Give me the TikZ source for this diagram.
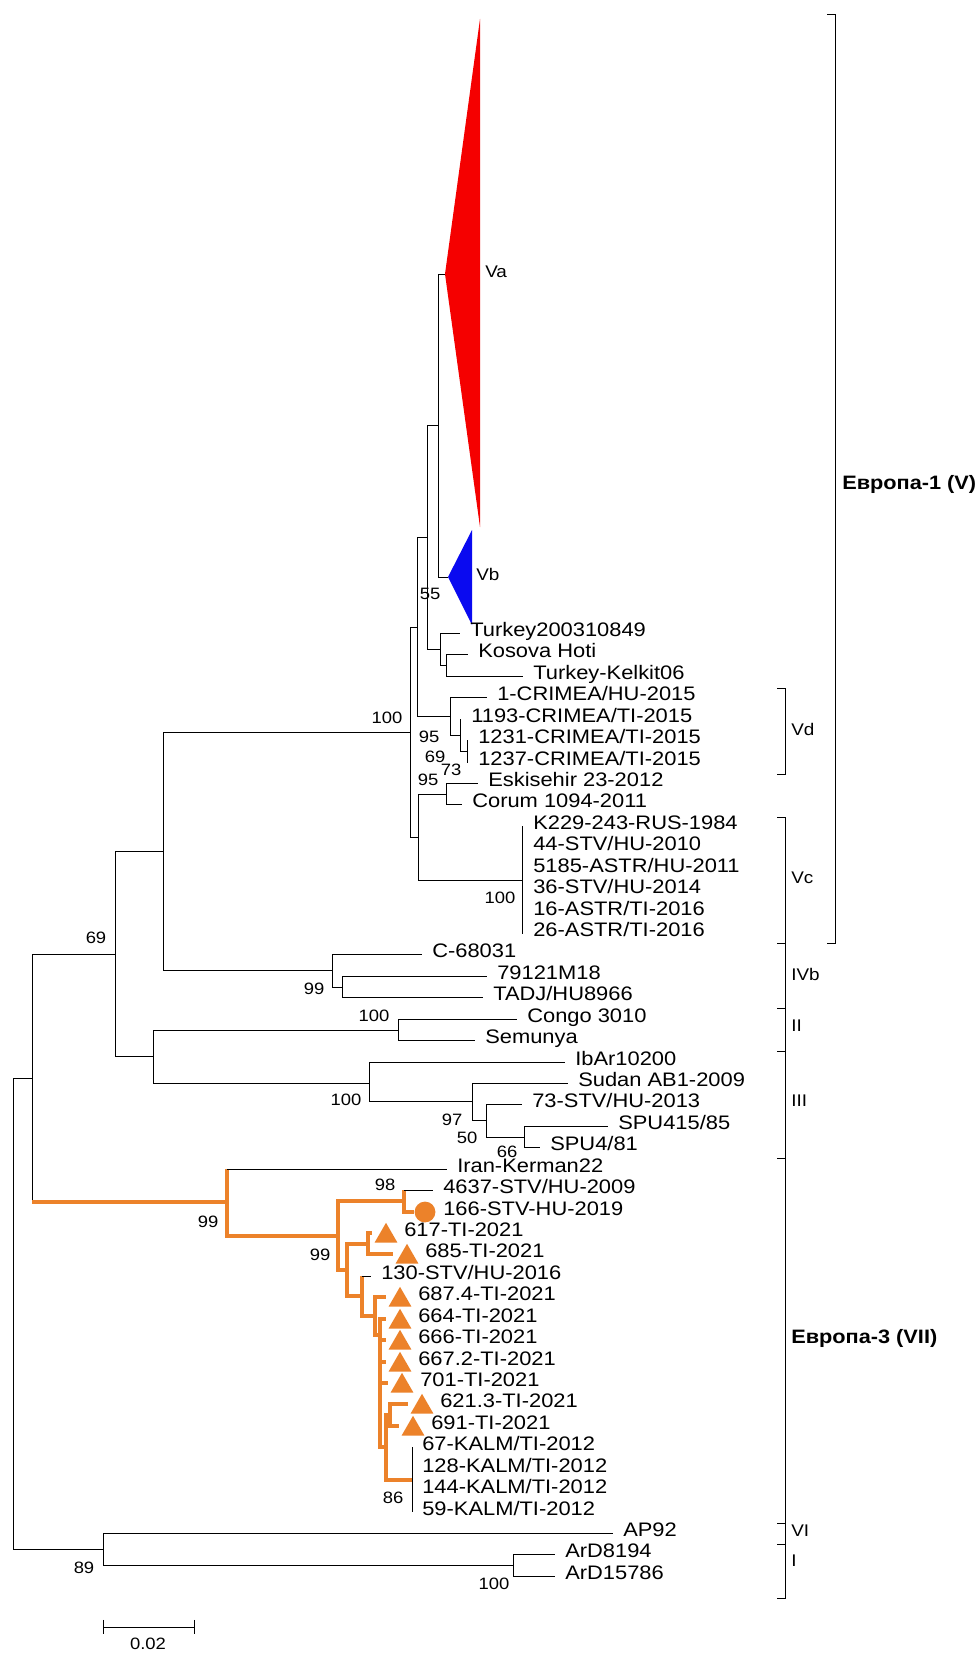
\documentclass[tikz,border=0pt]{standalone}
\usepackage{fontspec}
\usetikzlibrary{shapes.geometric}
\newfontfamily\treefont[FakeStretch=1.12]{Liberation Sans}
\definecolor{vared}{RGB}{245,0,0}
\definecolor{vbblue}{RGB}{10,10,240}
\definecolor{euroorange}{RGB}{236,130,42}

\begin{document}
\begin{tikzpicture}[x=0.25mm,y=-0.25mm]
  \tikzset{branch/.style={draw=black,line width=0.7pt}}
  \tikzset{eubranch/.style={draw=euroorange,line width=2.4pt}}
  \tikzset{leafname/.style={anchor=mid west,inner sep=0pt,font=\treefont\fontsize{13.9}{14}\selectfont,text=black}}
  \tikzset{leaf/.style={leafname,xshift=2.5mm}}
  \tikzset{markleaf/.style={leafname,xshift=4.5mm}}
  \tikzset{boot/.style={inner sep=0pt,font=\treefont\fontsize{11.7}{12}\selectfont}}
  \tikzset{clade/.style={anchor=mid west,inner sep=0pt,font=\treefont\fontsize{12}{12}\selectfont}}
  \tikzset{group/.style={anchor=mid west,inner sep=0pt,font=\treefont\bfseries\fontsize{13.8}{14}\selectfont}}
  \tikzset{tri/.style={regular polygon,regular polygon sides=3,fill=euroorange,inner sep=0pt,minimum size=6.6mm}}
  \tikzset{dot/.style={circle,fill=euroorange,inner sep=0pt,minimum size=5.2mm}}
  \fill[white] (0,0) rectangle (980,1653);
  \useasboundingbox (0,0) rectangle (980,1653);
  \coordinate (root) at (13,1314);
  \coordinate (nA) at (32,1078);
  \coordinate (n69) at (115,954);
  \coordinate (nIVE) at (163,851);
  \coordinate (r1) at (410,732);
  \coordinate (n3) at (417,627);
  \coordinate (n2) at (427,537);
  \coordinate (n1) at (438,425);
  \coordinate (tg) at (440,649);
  \coordinate (kk) at (446,665);
  \coordinate (cg) at (450,716);
  \coordinate (sg) at (460,735);
  \coordinate (ss) at (467,751);
  \coordinate (n4) at (418,837);
  \coordinate (ec) at (446,794);
  \coordinate (vc) at (522,880);
  \coordinate (ivb) at (332,970);
  \coordinate (n79) at (342,987);
  \coordinate (nII) at (153,1056);
  \coordinate (cII) at (398,1030);
  \coordinate (cIII) at (369,1083);
  \coordinate (ns) at (472,1101);
  \coordinate (n73) at (486,1120);
  \coordinate (nspu) at (524,1137);
  \coordinate (e3) at (227,1202);
  \coordinate (ne) at (338,1236);
  \coordinate (n98) at (404,1201);
  \coordinate (nf) at (347,1270);
  \coordinate (n617) at (368,1244);
  \coordinate (ng) at (362,1296);
  \coordinate (nh) at (375,1316);
  \coordinate (ni) at (380,1335);
  \coordinate (nl) at (386,1447);
  \coordinate (n621) at (390,1415);
  \coordinate (nk) at (412,1480);
  \coordinate (nb) at (103,1549);
  \coordinate (nar) at (513,1565);
  \coordinate (va) at (445,274);
  \coordinate (vb) at (448,577);
  \coordinate (t0) at (460,633);
  \coordinate (t1) at (468,654);
  \coordinate (t2) at (523,676);
  \coordinate (t3) at (487,697);
  \coordinate (t4) at (461,719);
  \coordinate (t5) at (468,740);
  \coordinate (t6) at (468,762);
  \coordinate (t7) at (478,783);
  \coordinate (t8) at (462,804);
  \coordinate (t9) at (523,826);
  \coordinate (t10) at (523,847);
  \coordinate (t11) at (523,869);
  \coordinate (t12) at (523,890);
  \coordinate (t13) at (523,912);
  \coordinate (t14) at (523,933);
  \coordinate (t15) at (422,954);
  \coordinate (t16) at (487,976);
  \coordinate (t17) at (483,997);
  \coordinate (t18) at (517,1019);
  \coordinate (t19) at (475,1040);
  \coordinate (t20) at (565,1062);
  \coordinate (t21) at (568,1083);
  \coordinate (t22) at (522,1104);
  \coordinate (t23) at (608,1126);
  \coordinate (t24) at (540,1147);
  \coordinate (t25) at (447,1169);
  \coordinate (t26) at (433,1190);
  \coordinate (t27) at (414,1212);
  \coordinate (t28) at (372,1233);
  \coordinate (t29) at (393,1254);
  \coordinate (t30) at (371,1276);
  \coordinate (t31) at (386,1297);
  \coordinate (t32) at (386,1319);
  \coordinate (t33) at (386,1340);
  \coordinate (t34) at (386,1362);
  \coordinate (t35) at (388,1383);
  \coordinate (t36) at (408,1404);
  \coordinate (t37) at (399,1426);
  \coordinate (t38) at (412,1447);
  \coordinate (t39) at (412,1469);
  \coordinate (t40) at (412,1490);
  \coordinate (t41) at (412,1512);
  \coordinate (t42) at (613,1533);
  \coordinate (t43) at (555,1554);
  \coordinate (t44) at (555,1576);
  \fill[vared] (va) -- (480,19) -- (480,527) -- cycle;
  \fill[vbblue] (vb) -- (472,530) -- (472,625) -- cycle;
  \draw[branch] (root) |- (nA) (root) |- (nb);
  \draw[branch] (nA) |- (n69) (nA) -- (nA |- e3);
  \draw[eubranch] (nA |- e3) -- (e3);
  \draw[branch] (n69) |- (nIVE) (n69) |- (nII);
  \draw[branch] (nIVE) |- (r1) (nIVE) |- (ivb);
  \draw[branch] (r1) |- (n3) (r1) |- (n4);
  \draw[branch] (n3) |- (n2) (n3) |- (cg);
  \draw[branch] (n2) |- (n1) (n2) |- (tg);
  \draw[branch] (n1) |- (va) (n1) |- (vb);
  \draw[branch] (tg) |- (t0) (tg) |- (kk);
  \draw[branch] (kk) |- (t1) (kk) |- (t2);
  \draw[branch] (cg) |- (t3) (cg) |- (sg);
  \draw[branch] (sg) |- (t4) (sg) |- (ss);
  \draw[branch] (ss) |- (t5) (ss) |- (t6);
  \draw[branch] (n4) |- (ec) (n4) |- (vc);
  \draw[branch] (ec) |- (t7) (ec) |- (t8);
  \draw[branch] (vc) |- (t9) (vc) |- (t10) (vc) |- (t11) (vc) |- (t12) (vc) |- (t13) (vc) |- (t14);
  \draw[branch] (ivb) |- (t15) (ivb) |- (n79);
  \draw[branch] (n79) |- (t16) (n79) |- (t17);
  \draw[branch] (nII) |- (cII) (nII) |- (cIII);
  \draw[branch] (cII) |- (t18) (cII) |- (t19);
  \draw[branch] (cIII) |- (t20) (cIII) |- (ns);
  \draw[branch] (ns) |- (t21) (ns) |- (n73);
  \draw[branch] (n73) |- (t22) (n73) |- (nspu);
  \draw[branch] (nspu) |- (t23) (nspu) |- (t24);
  \draw[branch] (nb) |- (t42) (nb) |- (nar);
  \draw[branch] (nar) |- (t43) (nar) |- (t44);
  \draw[eubranch] (e3) |- (ne) (e3) -- (e3 |- t25);
  \draw[branch] (e3 |- t25) -- (t25);
  \draw[eubranch] (ne) |- (n98) (ne) |- (nf);
  \draw[eubranch] (n98) |- (t27) (n98) -- (n98 |- t26);
  \draw[branch] (n98 |- t26) -- (t26);
  \draw[eubranch] (nf) |- (n617) (nf) |- (ng);
  \draw[eubranch] (n617) |- (t28) (n617) |- (t29);
  \draw[eubranch] (ng) |- (nh) (ng) -- (ng |- t30);
  \draw[branch] (ng |- t30) -- (t30);
  \draw[eubranch] (nh) |- (t31) (nh) |- (ni);
  \draw[eubranch] (ni) |- (t32) (ni) |- (t33) (ni) |- (t34) (ni) |- (t35) (ni) |- (nl);
  \draw[eubranch] (nl) |- (n621) (nl) |- (nk);
  \draw[eubranch] (n621) |- (t36) (n621) |- (t37);
  \draw[branch] (nk) |- (t38) (nk) |- (t39) (nk) |- (t40) (nk) |- (t41);
  \node[dot] (m27) at (425,1212) {};
  \node[tri] (m28) at (386,1236) {};
  \node[tri] (m29) at (407,1257) {};
  \node[tri] (m31) at (400,1300) {};
  \node[tri] (m32) at (400,1322) {};
  \node[tri] (m33) at (400,1343) {};
  \node[tri] (m34) at (400,1365) {};
  \node[tri] (m35) at (402,1386) {};
  \node[tri] (m36) at (422,1407) {};
  \node[tri] (m37) at (413,1429) {};
  \node[clade] (lva) at (485,274) {Va};
  \node[clade] (lvb) at (476,577) {Vb};
  \node[leaf] (l0) at (t0) {Turkey200310849};
  \node[leaf] (l1) at (t1) {Kosova Hoti};
  \node[leaf] (l2) at (t2) {Turkey-Kelkit06};
  \node[leaf] (l3) at (t3) {1-CRIMEA/HU-2015};
  \node[leaf] (l4) at (t4) {1193-CRIMEA/TI-2015};
  \node[leaf] (l5) at (t5) {1231-CRIMEA/TI-2015};
  \node[leaf] (l6) at (t6) {1237-CRIMEA/TI-2015};
  \node[leaf] (l7) at (t7) {Eskisehir 23-2012};
  \node[leaf] (l8) at (t8) {Corum 1094-2011};
  \node[leaf] (l9) at (t9) {K229-243-RUS-1984};
  \node[leaf] (l10) at (t10) {44-STV/HU-2010};
  \node[leaf] (l11) at (t11) {5185-ASTR/HU-2011};
  \node[leaf] (l12) at (t12) {36-STV/HU-2014};
  \node[leaf] (l13) at (t13) {16-ASTR/TI-2016};
  \node[leaf] (l14) at (t14) {26-ASTR/TI-2016};
  \node[leaf] (l15) at (t15) {C-68031};
  \node[leaf] (l16) at (t16) {79121M18};
  \node[leaf] (l17) at (t17) {TADJ/HU8966};
  \node[leaf] (l18) at (t18) {Congo 3010};
  \node[leaf] (l19) at (t19) {Semunya};
  \node[leaf] (l20) at (t20) {IbAr10200};
  \node[leaf] (l21) at (t21) {Sudan AB1-2009};
  \node[leaf] (l22) at (t22) {73-STV/HU-2013};
  \node[leaf] (l23) at (t23) {SPU415/85};
  \node[leaf] (l24) at (t24) {SPU4/81};
  \node[leaf] (l25) at (t25) {Iran-Kerman22};
  \node[leaf] (l26) at (t26) {4637-STV/HU-2009};
  \node[markleaf] (l27) at (m27 |- t27) {166-STV-HU-2019};
  \node[markleaf] (l28) at (m28 |- t28) {617-TI-2021};
  \node[markleaf] (l29) at (m29 |- t29) {685-TI-2021};
  \node[leaf] (l30) at (t30) {130-STV/HU-2016};
  \node[markleaf] (l31) at (m31 |- t31) {687.4-TI-2021};
  \node[markleaf] (l32) at (m32 |- t32) {664-TI-2021};
  \node[markleaf] (l33) at (m33 |- t33) {666-TI-2021};
  \node[markleaf] (l34) at (m34 |- t34) {667.2-TI-2021};
  \node[markleaf] (l35) at (m35 |- t35) {701-TI-2021};
  \node[markleaf] (l36) at (m36 |- t36) {621.3-TI-2021};
  \node[markleaf] (l37) at (m37 |- t37) {691-TI-2021};
  \node[leaf] (l38) at (t38) {67-KALM/TI-2012};
  \node[leaf] (l39) at (t39) {128-KALM/TI-2012};
  \node[leaf] (l40) at (t40) {144-KALM/TI-2012};
  \node[leaf] (l41) at (t41) {59-KALM/TI-2012};
  \node[leaf] (l42) at (t42) {AP92};
  \node[leaf] (l43) at (t43) {ArD8194};
  \node[leaf] (l44) at (t44) {ArD15786};
  \node[boot] (b1) at (430,594) {55};
  \node[boot] (b2) at (387,718) {100};
  \node[boot] (b3) at (429,737) {95};
  \node[boot] (b4) at (435,757) {69};
  \node[boot] (b5) at (451,770) {73};
  \node[boot] (b6) at (428,780) {95};
  \node[boot] (b7) at (500,898) {100};
  \node[boot] (b8) at (314,989) {99};
  \node[boot] (b9) at (374,1016) {100};
  \node[boot] (b10) at (346,1100) {100};
  \node[boot] (b11) at (452,1120) {97};
  \node[boot] (b12) at (467,1138) {50};
  \node[boot] (b13) at (507,1152) {66};
  \node[boot] (b14) at (96,938) {69};
  \node[boot] (b15) at (208,1222) {99};
  \node[boot] (b16) at (320,1255) {99};
  \node[boot] (b17) at (385,1185) {98};
  \node[boot] (b18) at (393,1498) {86};
  \node[boot] (b19) at (84,1568) {89};
  \node[boot] (b20) at (494,1584) {100};
  \draw[branch] (827,14) -- (835,14) -- (835,943) -- (827,943);
  \draw[branch] (777,688) -- (785,688) -- (785,774) -- (777,774);
  \draw[branch] (777,817) -- (785,817) -- (785,1598) -- (777,1598);
  \draw[branch] (777,943) -- (785,943) (777,1008) -- (785,1008) (777,1051) -- (785,1051);
  \draw[branch] (777,1158) -- (785,1158) (777,1523) -- (785,1523) (777,1544) -- (785,1544);
  \node[group] (g1) at (842,486) {Европа-1 (V)};
  \node[clade] (gvd) at (791,732) {Vd};
  \node[clade] (gvc) at (791,880) {Vc};
  \node[clade] (givb) at (791,977) {IVb};
  \node[clade] (gii) at (791,1028) {II};
  \node[clade] (giii) at (791,1103) {III};
  \node[group] (g3) at (791,1340) {Европа-3 (VII)};
  \node[clade] (gvi) at (791,1533) {VI};
  \node[clade] (gi) at (791,1563) {I};
  \coordinate (sb1) at (103,1627);
  \coordinate (sb2) at (194,1627);
  \draw[branch] (sb1) -- (sb2) ([yshift=1.8mm]sb1) -- ([yshift=-1.8mm]sb1) ([yshift=1.8mm]sb2) -- ([yshift=-1.8mm]sb2);
  \node[boot] (sbl) at (148,1644) {0.02};
\end{tikzpicture}
\end{document}
